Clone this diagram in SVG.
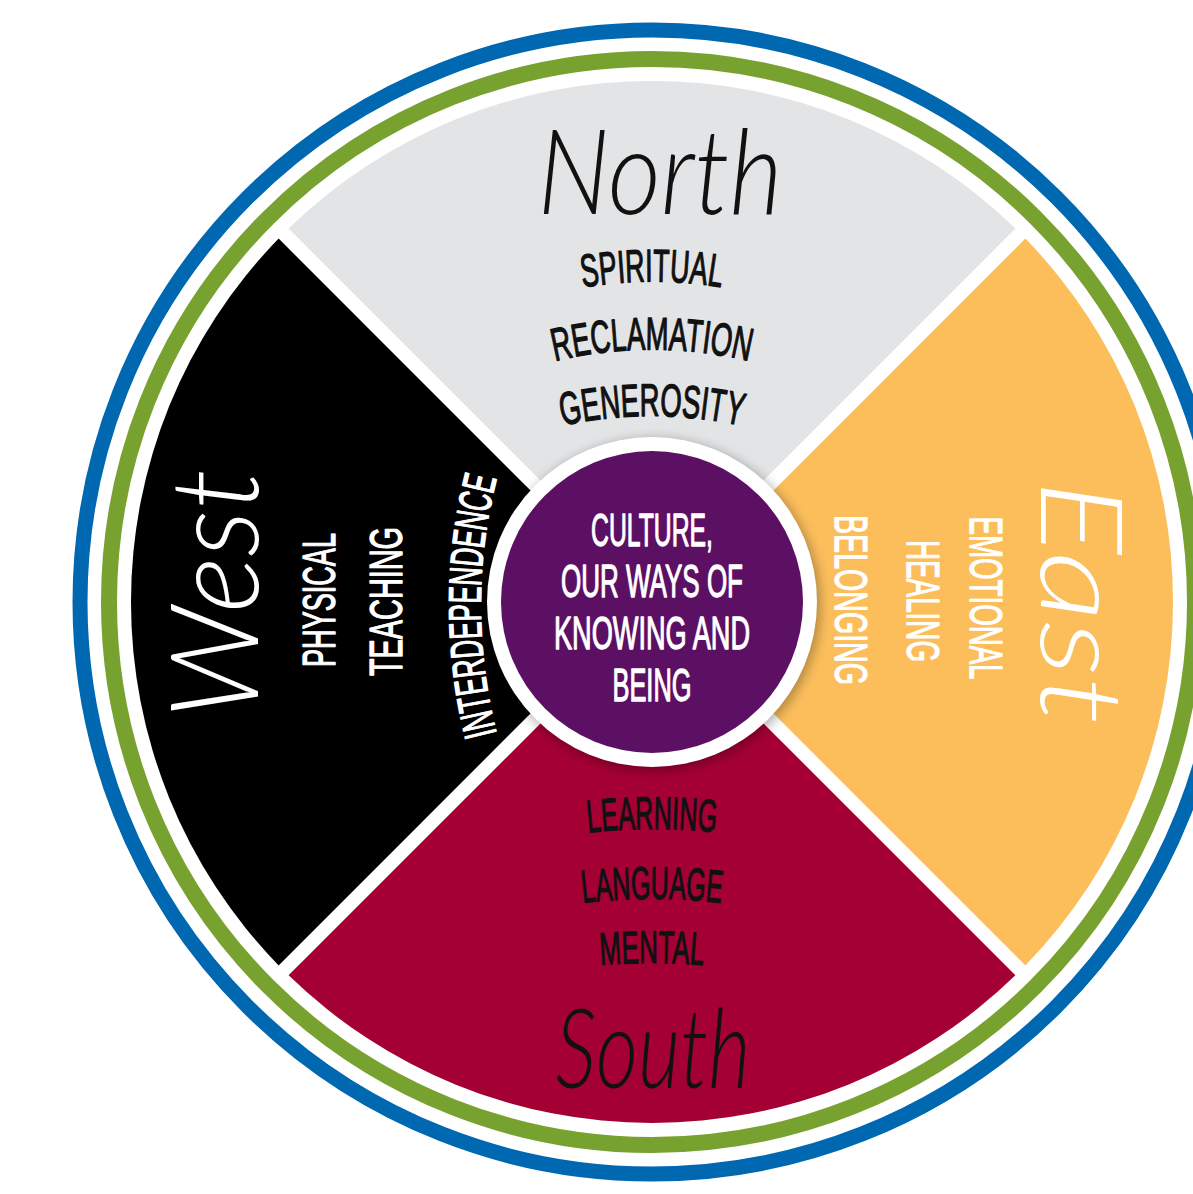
<svg xmlns="http://www.w3.org/2000/svg" width="1193" height="1194" viewBox="0 0 1193 1194">
  <defs>
    <style>
      .lbl { font-family: "Liberation Sans Narrow", "Liberation Sans", Arial, sans-serif; font-size: 46px; font-weight: normal; text-anchor: middle; stroke-width: 1.3; stroke-linejoin: round; }
      .script { font-family: Lato, "Open Sans", "Liberation Sans", sans-serif; font-style: italic; font-weight: 300; text-anchor: middle; }
      .ink { fill: #111111; }
      .lbl.ink { stroke: #111111; }
      .chalk { fill: #ffffff; }
      .lbl.chalk { stroke: #ffffff; }
    </style>
    <filter id="soft" x="-20%" y="-20%" width="140%" height="140%">
      <feGaussianBlur stdDeviation="6"/>
    </filter>
    <!-- arched baselines for the list labels -->
    <path id="arcSpiritual" d="M532,299.1 A420,420 0 0 1 772,299.1"/>
    <path id="arcReclamation" d="M522,370.3 A420,420 0 0 1 782,370.3"/>
    <path id="arcGenerosity" d="M527,435.1 A420,420 0 0 1 777,435.1"/>
    <path id="arcLearning" d="M542,839.2 A600,600 0 0 1 762,839.2"/>
    <path id="arcLanguage" d="M537,910.0 A600,600 0 0 1 767,910.0"/>
    <path id="arcMental" d="M552,971.4 A600,600 0 0 1 752,971.4"/>
    <path id="arcInterdep" d="M500,746 A520,520 0 0 1 500,466"/>
  </defs>

  <rect width="1193" height="1194" fill="#ffffff"/>

  <!-- outer rings -->
  <g id="rings" fill="none">
    <circle cx="652" cy="602" r="572" stroke="#0067b1" stroke-width="15"/>
    <circle cx="652" cy="602" r="543" stroke="#78a22f" stroke-width="16"/>
  </g>

  <!-- North quadrant -->
  <g id="north">
    <path d="M652,592.1 L288.6,228.6 A521,521 0 0 1 1015.4,228.6 Z" fill="#e3e4e5"/>
    <text class="script ink" x="660" y="214" font-size="118" textLength="245" lengthAdjust="spacingAndGlyphs">North</text>
    <text class="lbl ink" textLength="139" lengthAdjust="spacingAndGlyphs"><textPath href="#arcSpiritual" startOffset="50%">SPIRITUAL</textPath></text>
    <text class="lbl ink" textLength="196" lengthAdjust="spacingAndGlyphs"><textPath href="#arcReclamation" startOffset="50%">RECLAMATION</textPath></text>
    <text class="lbl ink" textLength="180" lengthAdjust="spacingAndGlyphs"><textPath href="#arcGenerosity" startOffset="50%">GENEROSITY</textPath></text>
  </g>

  <!-- East quadrant -->
  <g id="east">
    <path d="M661.9,602 L1025.35,238.6 A521,521 0 0 1 1025.35,965.4 Z" fill="#fbbe5b"/>
    <text class="script chalk" x="1041" y="602" font-size="114" textLength="245" lengthAdjust="spacingAndGlyphs" transform="rotate(90 1041 602)">East</text>
    <text class="lbl chalk" x="970" y="598" textLength="163" lengthAdjust="spacingAndGlyphs" transform="rotate(90 970 598)">EMOTIONAL</text>
    <text class="lbl chalk" x="907" y="601" textLength="122" lengthAdjust="spacingAndGlyphs" transform="rotate(90 907 601)">HEALING</text>
    <text class="lbl chalk" x="835" y="600" textLength="170" lengthAdjust="spacingAndGlyphs" transform="rotate(90 835 600)">BELONGING</text>
  </g>

  <!-- South quadrant -->
  <g id="south">
    <path d="M652,611.9 L1015.4,975.35 A521,521 0 0 1 288.6,975.35 Z" fill="#a50034"/>
    <text class="lbl ink" textLength="128" lengthAdjust="spacingAndGlyphs"><textPath href="#arcLearning" startOffset="50%">LEARNING</textPath></text>
    <text class="lbl ink" textLength="139" lengthAdjust="spacingAndGlyphs"><textPath href="#arcLanguage" startOffset="50%">LANGUAGE</textPath></text>
    <text class="lbl ink" textLength="103" lengthAdjust="spacingAndGlyphs"><textPath href="#arcMental" startOffset="50%">MENTAL</textPath></text>
    <text class="script ink" x="653" y="1088" font-size="110" textLength="195" lengthAdjust="spacingAndGlyphs">South</text>
  </g>

  <!-- West quadrant -->
  <g id="west">
    <path d="M642.1,602 L278.65,965.4 A521,521 0 0 1 278.65,238.6 Z" fill="#000000"/>
    <text class="script chalk" x="258" y="594" font-size="122" textLength="250" lengthAdjust="spacingAndGlyphs" transform="rotate(-90 258 594)">West</text>
    <text class="lbl chalk" x="335" y="600" textLength="134" lengthAdjust="spacingAndGlyphs" transform="rotate(-90 335 600)">PHYSICAL</text>
    <text class="lbl chalk" x="402" y="601.5" textLength="149" lengthAdjust="spacingAndGlyphs" transform="rotate(-90 402 601.5)">TEACHING</text>
    <text class="lbl chalk" textLength="258" lengthAdjust="spacingAndGlyphs"><textPath href="#arcInterdep" startOffset="50%">INTERDEPENDENCE</textPath></text>
  </g>

  <!-- centre hub -->
  <g id="centre">
    <circle cx="654" cy="605" r="166" fill="#000000" opacity="0.3" filter="url(#soft)"/>
    <circle cx="652" cy="602" r="165" fill="#ffffff"/>
    <circle cx="652" cy="602" r="151" fill="#5c1064"/>
    <text class="lbl chalk" x="652" y="546" textLength="122" lengthAdjust="spacingAndGlyphs">CULTURE,</text>
    <text class="lbl chalk" x="652" y="597" textLength="182" lengthAdjust="spacingAndGlyphs">OUR WAYS OF</text>
    <text class="lbl chalk" x="652" y="649" textLength="196" lengthAdjust="spacingAndGlyphs">KNOWING AND</text>
    <text class="lbl chalk" x="652" y="701" textLength="79" lengthAdjust="spacingAndGlyphs">BEING</text>
  </g>
</svg>
